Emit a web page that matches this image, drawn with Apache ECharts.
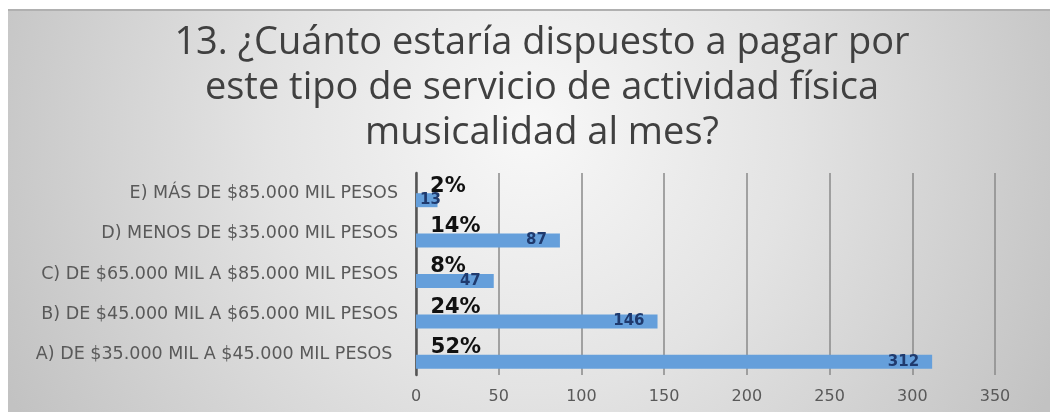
<!DOCTYPE html>
<html>
<head>
<meta charset="utf-8">
<script src="https://cdn.jsdelivr.net/npm/echarts@6/dist/echarts.min.js"></script>
<style>
html,body{margin:0;padding:0;background:#fff;}
#c{width:1050px;height:412px;}
</style>
</head>
<body>
<div id="c"></div>
<script>
// ---- data ----
const titleText = "13. ¿Cuánto estaría dispuesto a pagar por\neste tipo de servicio de actividad física\nmusicalidad al mes?";
const categories = [
  "A) DE $35.000 MIL A $45.000 MIL PESOS ",
  "B) DE $45.000 MIL A $65.000 MIL PESOS",
  "C) DE $65.000 MIL A $85.000 MIL PESOS",
  "D) MENOS DE $35.000 MIL PESOS",
  "E) MÁS DE $85.000 MIL PESOS"
];
const counts = [312, 146, 47, 87, 13];
const shares = [0.52, 0.24, 0.08, 0.14, 0.02];
const xTicks = [0, 50, 100, 150, 200, 250, 300, 350];

const chart = echarts.init(document.getElementById('c'), null, {renderer: 'canvas'});

const countData = counts.map(function (v) {
  if (v < 30) {
    return {value: v, label: {position: 'insideLeft', distance: 4}};
  }
  return v;
});

chart.setOption({
  backgroundColor: '#ffffff',
  animation: false,
  graphic: [
    {
      type: 'rect', z: -10, silent: true,
      shape: {x: 8, y: 9, width: 1042, height: 403},
      style: {
        fill: {
          type: 'radial', x: 0.5, y: 0.3, r: 1.45,
          colorStops: [
            {offset: 0, color: '#f8f8f8'},
            {offset: 0.45, color: '#e3e3e3'},
            {offset: 1, color: '#c2c2c2'}
          ]
        }
      }
    },
    {
      type: 'rect', z: -9, silent: true,
      shape: {x: 8, y: 9, width: 1042, height: 2},
      style: {fill: '#b0b0b0'}
    }
  ],
  title: {
    text: titleText,
    left: 537, top: 16, textAlign: 'center',
    textStyle: {
      fontFamily: 'Open Sans', fontSize: 38, fontWeight: 'normal',
      color: '#404040', lineHeight: 45
    }
  },
  grid: {left: 416, right: 55, top: 173, bottom: 37, containLabel: false},
  xAxis: {
    type: 'value', min: xTicks[0], max: xTicks[xTicks.length - 1], interval: 50,
    axisLine: {show: false}, axisTick: {show: false},
    splitLine: {show: true, lineStyle: {color: '#8a8a8a', width: 1.5}},
    axisLabel: {
      margin: 14, color: '#595959', fontFamily: 'DejaVu Sans', fontSize: 16,
      formatter: function (v) { return xTicks.indexOf(v) >= 0 ? String(v) : ''; }
    }
  },
  yAxis: {
    type: 'category', data: categories,
    axisLine: {show: true, lineStyle: {color: '#555555', width: 2.5}},
    axisTick: {show: false},
    axisLabel: {margin: 18, color: '#595959', fontFamily: 'DejaVu Sans', fontSize: 17.5}
  },
  series: [
    {
      name: 'share', type: 'bar', data: shares, barWidth: 14, barGap: '0%',
      itemStyle: {color: 'rgba(0,0,0,0)'},
      label: {
        show: true, position: 'right', distance: 14,
        fontFamily: 'DejaVu Sans', fontWeight: 'bold', fontSize: 21, color: '#111111',
        formatter: function (p) { return Math.round(p.value * 100) + '%'; }
      }
    },
    {
      name: 'count', type: 'bar', data: countData, barWidth: 14, barGap: '0%',
      itemStyle: {color: '#659FDB'},
      label: {
        show: true, position: 'insideRight', distance: 13,
        fontFamily: 'DejaVu Sans', fontWeight: 'bold', fontSize: 15, color: '#1F3A6E'
      }
    }
  ]
});
</script>
</body>
</html>
